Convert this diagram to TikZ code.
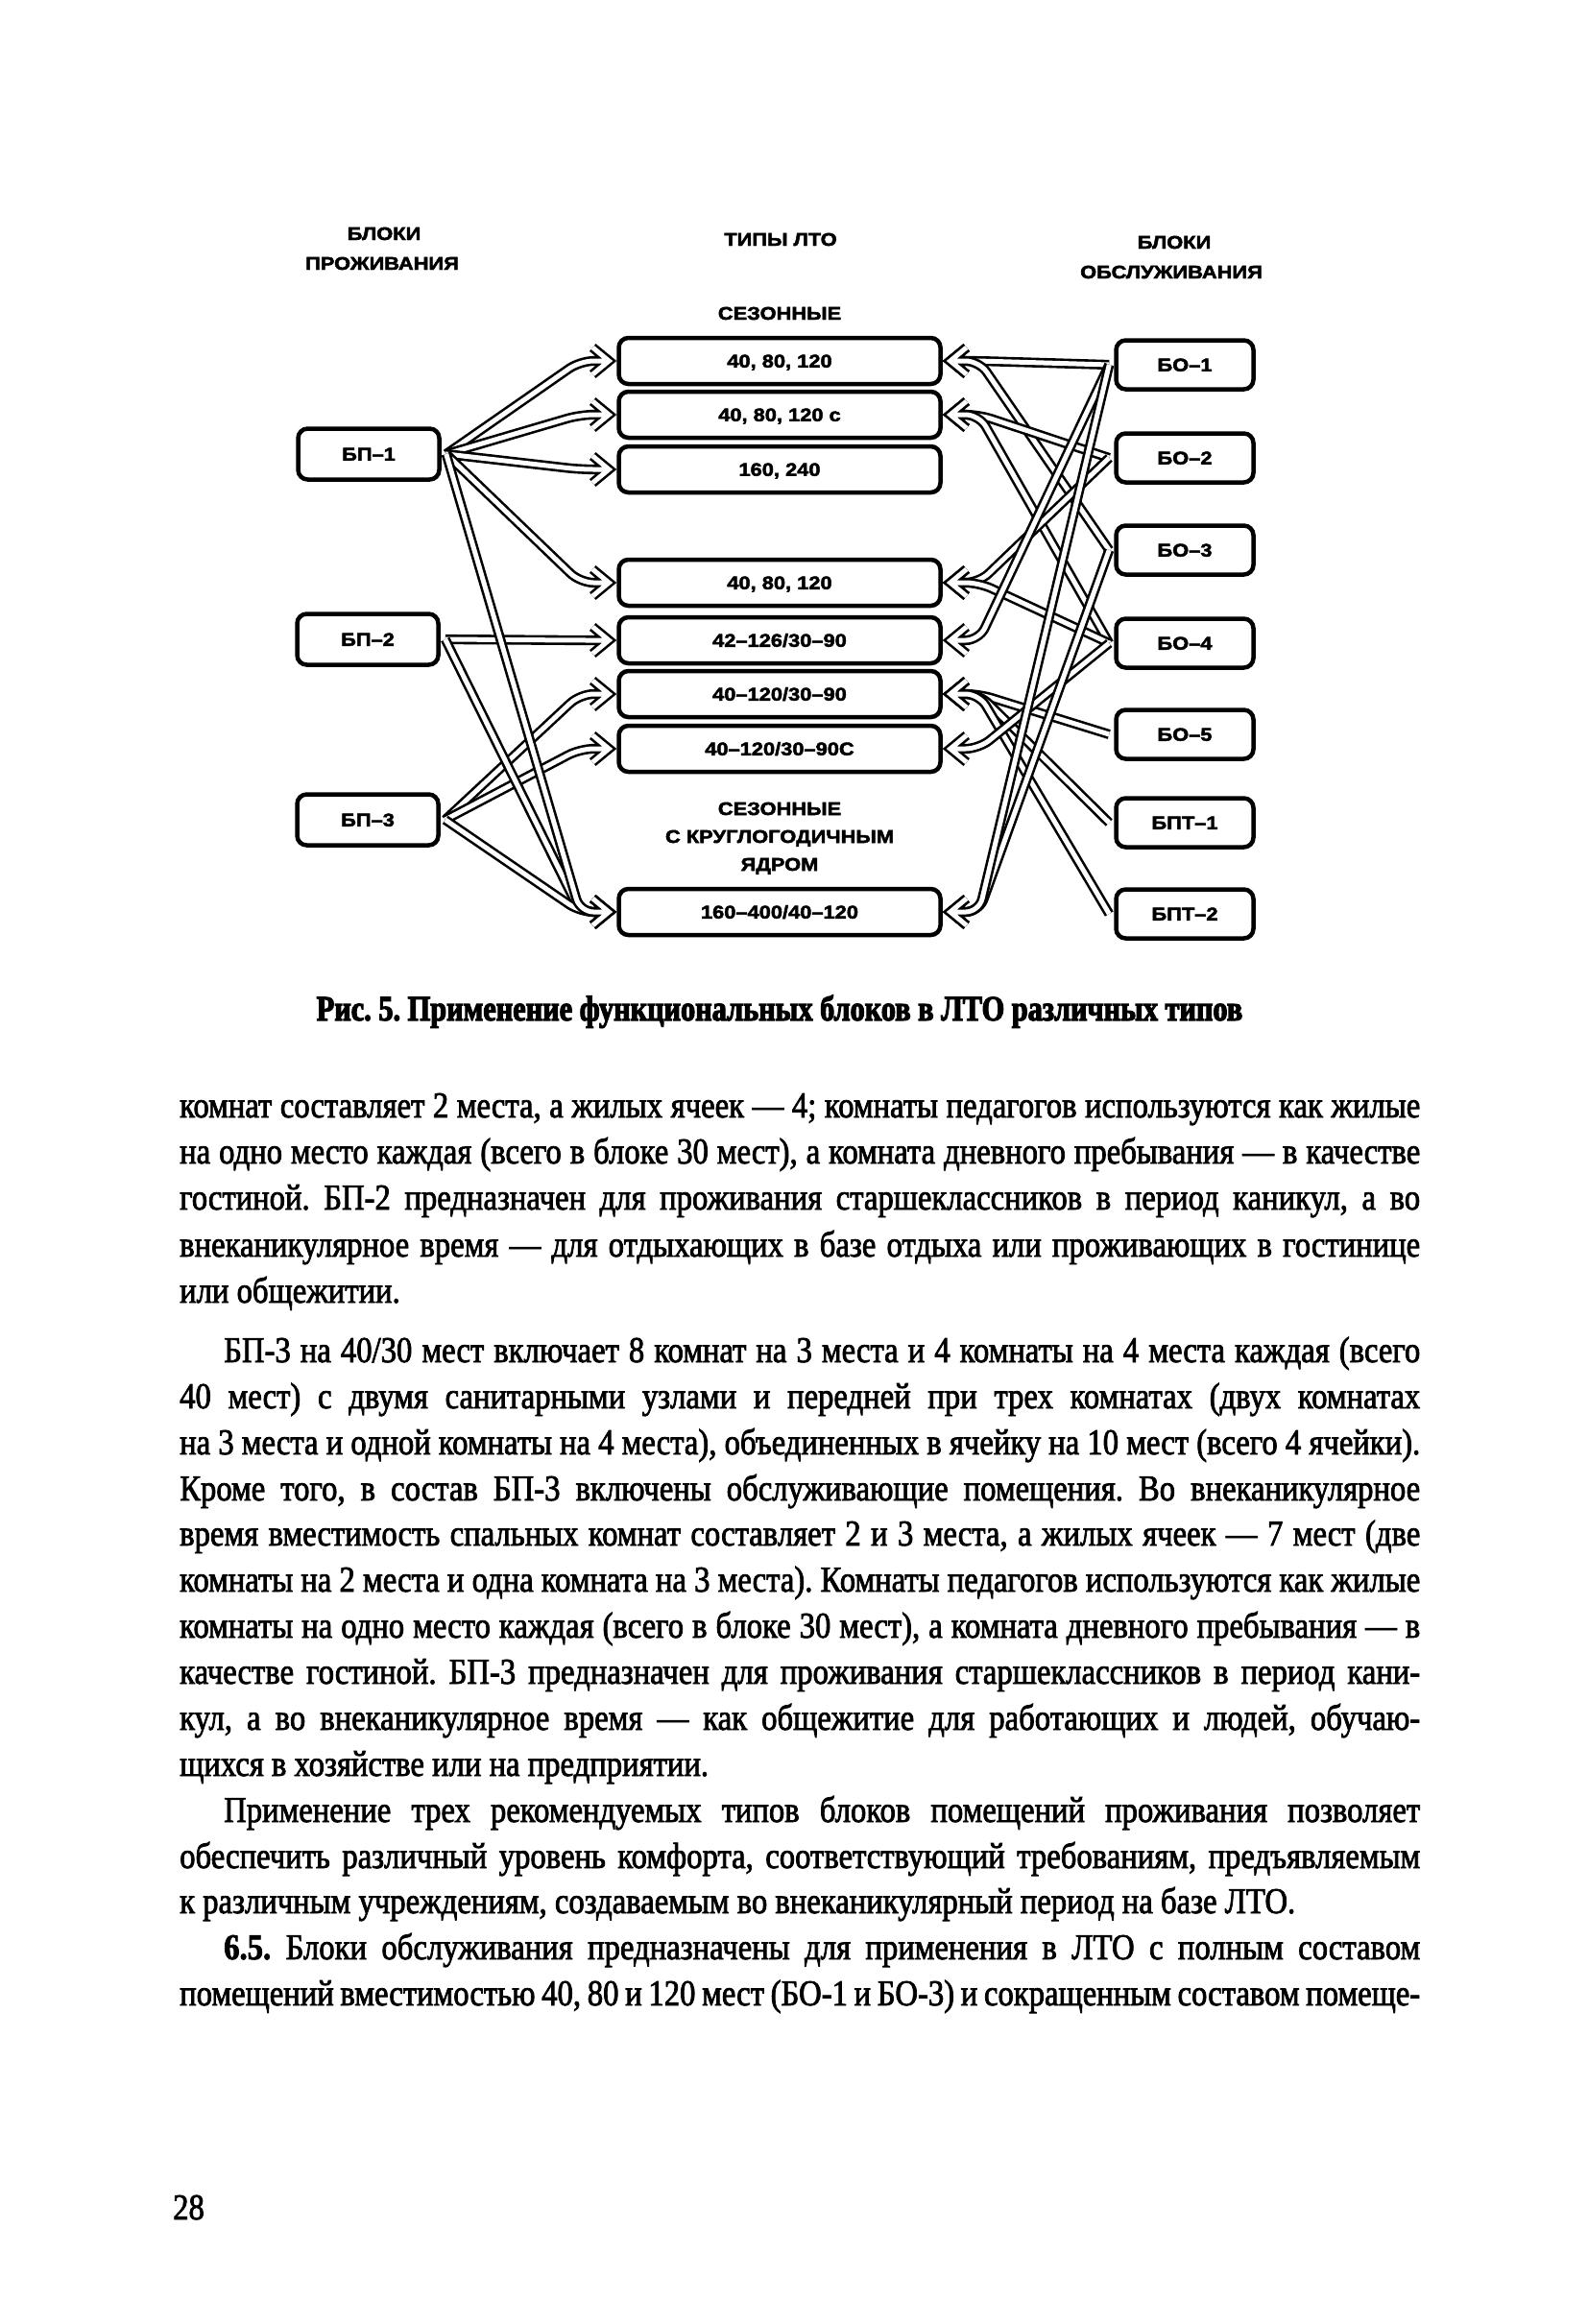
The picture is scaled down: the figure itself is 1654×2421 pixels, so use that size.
\documentclass[tikz,border=0pt]{standalone}
\usepackage{fontspec}
\setmainfont{Liberation Serif}
\newfontfamily\pgBodyFam{Liberation Serif}[FakeStretch=0.86,FakeBold=2]
\newfontfamily\pgCapFam{Liberation Serif}[FakeStretch=0.82,FakeBold=3]
\newfontfamily\pgDiaFam{Liberation Sans}[FakeStretch=1.15,FakeBold=2.5]
\newcommand\pgBody{\pgBodyFam\fontsize{38}{47}\selectfont\frenchspacing}
\newcommand\pgCap{\pgCapFam\bfseries\fontsize{37}{40}\selectfont\frenchspacing}
\newcommand\pgDia{\pgDiaFam\bfseries\fontsize{19}{20}\selectfont}
\newcommand\pgHdr{\pgDiaFam\bfseries\fontsize{19}{20}\selectfont}
\usetikzlibrary{calc}
\newcommand\conL[2]{\draw[dbl] (#1) [rounded corners=14pt] -- ($(#2)+(-30,0)$) -- (#2) [sharp corners] ++(-17,-14) -- (#2) -- ++(-17,14);}
\newcommand\conR[2]{\draw[dbl] (#1) [rounded corners=14pt] -- ($(#2)+(30,0)$) -- (#2) [sharp corners] ++(17,-14) -- (#2) -- ++(17,14);}
\newcommand\jline[3]{\node[bodyline] (#1) at (187,#2) {\makebox[1292pt][s]{#3}};}
\newcommand\jind[3]{\node[bodyline] (#1) at (233,#2) {\makebox[1246pt][s]{#3}};}
\newcommand\lline[3]{\node[bodyline] (#1) at (187,#2) {#3};}
\begin{document}
\begin{tikzpicture}[x=1pt,y=-1pt,
 dbl/.style={draw=black,line width=2.6pt,double=white,double distance=5pt,line join=miter,line cap=butt},
 sbox/.style={draw,line width=4.5pt,rounded corners=10pt,inner sep=0pt,font=\pgDia,text height=13.5pt,text depth=0pt},
 lbox/.style={sbox,minimum width=147pt,minimum height=53pt},
 mbox/.style={sbox,minimum width=335pt,minimum height=48pt},
 rbox/.style={sbox,minimum width=143pt,minimum height=51pt},
 hdr/.style={anchor=base,inner sep=0pt,font=\pgHdr},
 bodyline/.style={anchor=base west,inner sep=0pt,font=\pgBody}]
\path[use as bounding box,fill=white] (0,0) rectangle (1654,2421);

% headers
\node[hdr] (h1a) at (400,250) {БЛОКИ};
\node[hdr] (h1b) at (398,281) {ПРОЖИВАНИЯ};
\node[hdr] (h2) at (813,256) {ТИПЫ ЛТО};
\node[hdr] (h3a) at (1223,259) {БЛОКИ};
\node[hdr] (h3b) at (1220,290) {ОБСЛУЖИВАНИЯ};
\node[hdr] (g1) at (812,333) {СЕЗОННЫЕ};
\node[hdr] (g2a) at (812,849) {СЕЗОННЫЕ};
\node[hdr] (g2b) at (812,878) {С КРУГЛОГОДИЧНЫМ};
\node[hdr] (g2c) at (812,907) {ЯДРОМ};

% left boxes
\node[lbox] (bp1) at (384,473) {БП–1};
\node[lbox] (bp2) at (383,666) {БП–2};
\node[lbox] (bp3) at (383,854) {БП–3};

% middle boxes
\node[mbox] (t1) at (812,376) {40, 80, 120};
\node[mbox] (t2) at (812,432) {40, 80, 120 с};
\node[mbox] (t3) at (812,489) {160, 240};
\node[mbox] (t4) at (812,607) {40, 80, 120};
\node[mbox] (t5) at (812,667) {42–126/30–90};
\node[mbox] (t6) at (812,723) {40–120/30–90};
\node[mbox] (t7) at (812,780) {40–120/30–90С};
\node[mbox] (t8) at (812,950) {160–400/40–120};

% right boxes
\node[rbox] (bo1) at (1234,380) {БО–1};
\node[rbox] (bo2) at (1234,477) {БО–2};
\node[rbox] (bo3) at (1234,573) {БО–3};
\node[rbox] (bo4) at (1234,670) {БО–4};
\node[rbox] (bo5) at (1234,765) {БО–5};
\node[rbox] (bpt1) at (1234,857) {БПТ–1};
\node[rbox] (bpt2) at (1234,952) {БПТ–2};

% anchor points
\foreach \i in {1,...,8}{
  \coordinate (L\i) at ($(t\i.west)+(-8,0)$);
  \coordinate (R\i) at ($(t\i.east)+(8,0)$);
}
\coordinate (s1) at ($(bp1.east)+(5,0)$);
\coordinate (s2) at ($(bp2.east)+(5,0)$);
\coordinate (s3) at ($(bp3.east)+(5,0)$);
\coordinate (e1) at ($(bo1.west)+(-5,0)$);
\coordinate (e2) at ($(bo2.west)+(-5,0)$);
\coordinate (e3) at ($(bo3.west)+(-5,0)$);
\coordinate (e4) at ($(bo4.west)+(-5,0)$);
\coordinate (e5) at ($(bo5.west)+(-5,0)$);
\coordinate (f1) at ($(bpt1.west)+(-5,0)$);
\coordinate (f2) at ($(bpt2.west)+(-5,0)$);

% left connectors
\conL{s1}{L1}
\conL{s1}{L2}
\conL{s1}{L3}
\conL{s1}{L4}
\conL{s2}{L5}
\conL{s3}{L6}
\conL{s3}{L7}
\conL{s2}{L8}
\conL{s3}{L8}
\conL{s1}{L8}

% right connectors
\conR{e1}{R1}
\conR{e3}{R1}
\conR{e2}{R2}
\conR{e4}{R2}
\conR{e2}{R4}
\conR{e4}{R4}
\conR{e1}{R5}
\conR{e5}{R6}
\conR{f1}{R6}
\conR{f2}{R6}
\conR{e4}{R7}
\conR{e3}{R8}
\conR{e1}{R8}

% caption
\node[anchor=base,inner sep=0pt,font=\pgCap] (cap) at (812,1063) {Рис. 5. Применение функциональных блоков в ЛТО различных типов};

% body text
\jline{b1}{1164}{комнат составляет 2 места, а жилых ячеек — 4; комнаты педагогов используются как жилые}
\jline{b2}{1212}{на одно место каждая (всего в блоке 30 мест), а комната дневного пребывания — в качестве}
\jline{b3}{1260}{гостиной. БП-2 предназначен для проживания старшеклассников в период каникул, а во}
\jline{b4}{1309}{внеканикулярное время — для отдыхающих в базе отдыха или проживающих в гостинице}
\lline{b5}{1357}{или общежитии.}
\jind{b6}{1419}{БП-3 на 40/30 мест включает 8 комнат на 3 места и 4 комнаты на 4 места каждая (всего}
\jline{b7}{1467}{40 мест) с двумя санитарными узлами и передней при трех комнатах (двух комнатах}
\jline{b8}{1515}{на 3 места и одной комнаты на 4 места), объединенных в ячейку на 10 мест (всего 4 ячейки).}
\jline{b9}{1563}{Кроме того, в состав БП-3 включены обслуживающие помещения. Во внеканикулярное}
\jline{b10}{1610}{время вместимость спальных комнат составляет 2 и 3 места, а жилых ячеек — 7 мест (две}
\jline{b11}{1658}{комнаты на 2 места и одна комната на 3 места). Комнаты педагогов используются как жилые}
\jline{b12}{1706}{комнаты на одно место каждая (всего в блоке 30 мест), а комната дневного пребывания — в}
\jline{b13}{1754}{качестве гостиной. БП-3 предназначен для проживания старшеклассников в период кани-}
\jline{b14}{1802}{кул, а во внеканикулярное время — как общежитие для работающих и людей, обучаю-}
\lline{b15}{1850}{щихся в хозяйстве или на предприятии.}
\jind{b16}{1898}{Применение трех рекомендуемых типов блоков помещений проживания позволяет}
\jline{b17}{1946}{обеспечить различный уровень комфорта, соответствующий требованиям, предъявляемым}
\lline{b18}{1993}{к различным учреждениям, создаваемым во внеканикулярный период на базе ЛТО.}
\jind{b19}{2041}{{\bfseries 6.5.} Блоки обслуживания предназначены для применения в ЛТО с полным составом}
\jline{b20}{2089}{помещений вместимостью 40, 80 и 120 мест (БО-1 и БО-3) и сокращенным составом помеще-}

\node[bodyline] (pn) at (180,2312) {28};
\end{tikzpicture}
\end{document}
